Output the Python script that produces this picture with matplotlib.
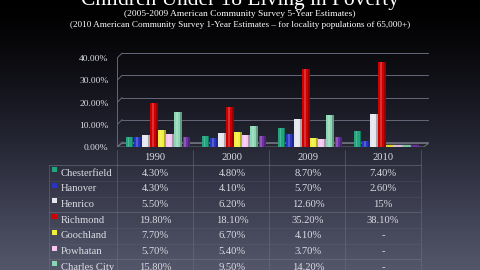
import numpy as np
import matplotlib
matplotlib.use('Agg')
import matplotlib.pyplot as plt
from matplotlib.patches import Polygon, Rectangle
from matplotlib.colors import LinearSegmentedColormap, to_rgb

# datos
years = ['1990', '2000', '2009', '2010']
localities = ['Chesterfield', 'Hanover', 'Henrico', 'Richmond', 'Goochland',
              'Powhatan', 'Charles City', 'New Kent']
chesterfield = [4.3, 4.8, 8.7, 7.4]
hanover = [4.3, 4.1, 5.7, 2.6]
henrico = [5.5, 6.2, 12.6, 15.0]
richmond = [19.8, 18.1, 35.2, 38.1]
goochland = [7.7, 6.7, 4.1, 0.0]
powhatan = [5.7, 5.4, 3.7, 0.0]
charles_city = [15.8, 9.5, 14.2, 0.0]
new_kent = [4.7, 5.0, 4.5, 0.0]
table_text = [
    ['4.30%', '4.80%', '8.70%', '7.40%'],
    ['4.30%', '4.10%', '5.70%', '2.60%'],
    ['5.50%', '6.20%', '12.60%', '15%'],
    ['19.80%', '18.10%', '35.20%', '38.10%'],
    ['7.70%', '6.70%', '4.10%', '-'],
    ['5.70%', '5.40%', '3.70%', '-'],
    ['15.80%', '9.50%', '14.20%', '-'],
    ['4.70%', '5.00%', '4.50%', '-'],
]
yticks = [0, 10, 20, 30, 40]

series = [chesterfield, hanover, henrico, richmond, goochland, powhatan,
          charles_city, new_kent]
colors = ['#1fa67e', '#2b35c4', '#e6e6ee', '#d00000', '#f2f03c',
          '#f6c6f2', '#8cd6b6', '#7030a8']

W, H = 480, 270
fig = plt.figure(figsize=(W / 100, H / 100), dpi=100)


def fx(px):
    return px / W


def fy(py):
    return 1 - py / H


# fondo degradado
bg = fig.add_axes([0, 0, 1, 1], zorder=-10)
t = np.linspace(0, 1, 300) ** 1.3
grad = np.tile(t[:, None], (1, 10))
cmap = LinearSegmentedColormap.from_list('bg', ['#000000', '#1c1d28', '#3a3c4e', '#54576a'])
bg.imshow(grad, cmap=cmap, aspect='auto', extent=[0, 1, 1, 0])
bg.set_xlim(0, 1)
bg.set_ylim(1, 0)
bg.axis('off')

serif = ['Liberation Serif', 'DejaVu Serif']
txtc = '#dcdce4'

fig.text(0.5, fy(5), 'Children Under 18 Living in Poverty', ha='center', va='baseline',
         fontsize=15.5, color='white', family=serif)
fig.text(0.5, fy(14), '(2005-2009 American Community Survey 5-Year Estimates)',
         ha='center', va='center', fontsize=6.8, color='white', family=serif)
fig.text(0.5, fy(25), '(2010 American Community Survey 1-Year Estimates \u2013 for locality populations of 65,000+)',
         ha='center', va='center', fontsize=6.6, color='white', family=serif)

# grafico de barras
left, right, top, bottom = 117, 430, 50, 147
pxu = 76.0   # pixeles por grupo
pyu = 2.22   # pixeles por 1%
ax = fig.add_axes([fx(left), fy(bottom), fx(right - left), (bottom - top) / H])
ax.set_facecolor('none')
x0l = -41 / pxu
ax.set_xlim(x0l, x0l + (right - left) / pxu)
ax.set_ylim(0, (bottom - top) / pyu)
for s in ax.spines.values():
    s.set_visible(False)
ax.set_xticks([])
ax.set_yticks(yticks)
ax.set_yticklabels(['%.2f%%' % v for v in yticks], family=serif, fontsize=6.8, color=txtc)
ax.tick_params(axis='y', length=0, pad=6)

gc = '#66687a'
dx, dy = 5 / pxu, 5 / pyu
xr = ax.get_xlim()[1]
for v in yticks:
    ax.plot([x0l + dx, xr - 0.02], [v + dy, v + dy], color=gc, lw=0.7, zorder=1)
    ax.plot([x0l, x0l + dx], [v, v + dy], color=gc, lw=0.7, zorder=1)
ax.plot([x0l, x0l], [0, 40.5], color=gc, lw=0.7, zorder=1)
floor = Polygon([[x0l, 0], [xr - dx - 0.02, 0], [xr - 0.02, dy * 0.7], [x0l + dx, dy * 0.7]],
                closed=True, facecolor='#25262f', edgecolor='#7a7c8a', lw=0.6, zorder=1)
ax.add_patch(floor)

x = np.arange(len(years))
slot = 8.1 / pxu
bw = 7.6 / pxu
for i, (vals, c) in enumerate(zip(series, colors)):
    xs = x + (i - 3.5) * slot
    bars = ax.bar(xs, vals, width=bw, color=c, zorder=3, edgecolor='none')
    rgb = np.array(to_rgb(c))
    for b in bars:
        bx, w, h = b.get_x(), b.get_width(), b.get_height()
        if h <= 0:
            ax.add_patch(Rectangle((bx, 0.4), w, 0.7, color=c, alpha=0.8, zorder=3))
            continue
        # sombreado tipo cilindro
        ax.add_patch(Rectangle((bx + w * 0.75, 0), w * 0.25, h, facecolor=rgb * 0.72,
                               edgecolor='none', zorder=4))
        ax.add_patch(Rectangle((bx + w * 0.25, 0), w * 0.22, h, facecolor='white', alpha=0.2,
                               edgecolor='none', zorder=4))

# tabla
col_x = [155, 232, 308, 383]
vlines = [117, 193, 269, 345, 421]
header_y = 157
row0 = 173
rh = 15.7
for cx, yr in zip(col_x, years):
    fig.text(fx(cx), fy(header_y), yr, ha='center', va='center', fontsize=7.6,
             color=txtc, family=serif)
line_c = '#70727f'
tab_top = row0 - rh / 2
for vx in vlines:
    fig.add_artist(plt.Line2D([fx(vx), fx(vx)], [fy(150), fy(H + 10)],
                              color=line_c, lw=0.5, alpha=0.7, transform=fig.transFigure))
fig.add_artist(plt.Line2D([fx(49), fx(49)], [fy(tab_top), fy(H + 10)],
                          color=line_c, lw=0.5, alpha=0.7, transform=fig.transFigure))
for r in range(len(localities) + 1):
    yy = tab_top + r * rh
    a = 0.8 if r in (0, 3, 6) else 0.3
    fig.add_artist(plt.Line2D([fx(49), fx(421)], [fy(yy), fy(yy)], color=line_c, lw=0.5,
                              alpha=a, transform=fig.transFigure))
for r, (name, c) in enumerate(zip(localities, colors)):
    yy = row0 + r * rh
    fig.add_artist(Rectangle((fx(52), fy(yy - 1)), fx(5), 5 / H, facecolor=c,
                             edgecolor='none', transform=fig.transFigure))
    fig.text(fx(61), fy(yy), name, ha='left', va='center', fontsize=7.6, color=txtc, family=serif)
    for cx, s in zip(col_x, table_text[r]):
        fig.text(fx(cx), fy(yy), s, ha='center', va='center', fontsize=7.6, color=txtc, family=serif)

fig.savefig('out.png', dpi=100)
